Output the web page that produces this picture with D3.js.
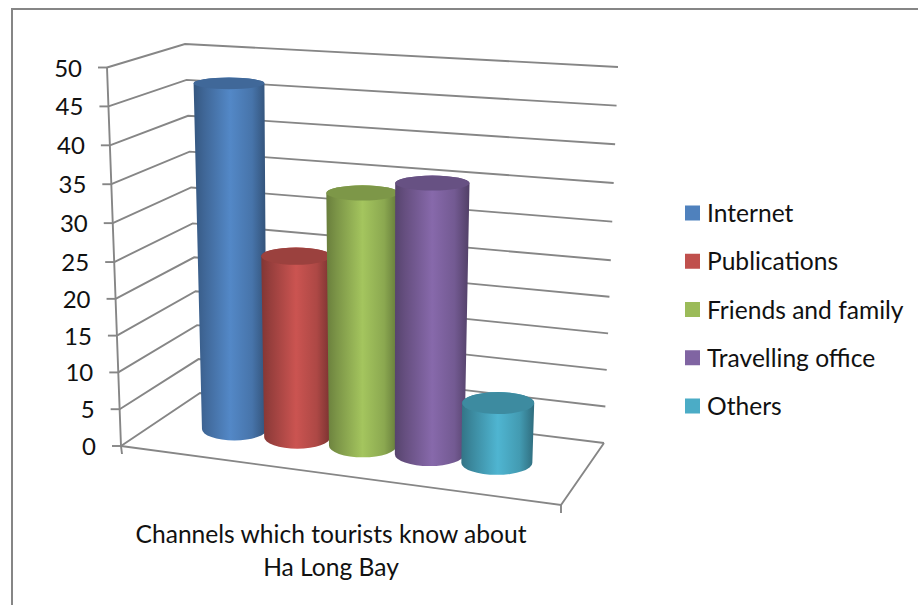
<!DOCTYPE html>
<html>
<head>
<meta charset="utf-8">
<script src="https://cdn.jsdelivr.net/npm/d3@7"></script>
<style>
  html, body { margin: 0; padding: 0; background: #fff; overflow: hidden; }
  svg text { font-family: Lato, "Open Sans", sans-serif; fill: #111; }
</style>
</head>
<body>
<svg class="svg" width="918" height="605"></svg>
<script>
// chart values
const channels = ["Internet", "Publications", "Friends and family", "Travelling office", "Others"];
const shares = [47, 25, 34, 36, 8];
const colors = ["#4f81bd", "#c0504d", "#9bbb59", "#8064a2", "#4bacc6"];
const yTicks = [0, 5, 10, 15, 20, 25, 30, 35, 40, 45, 50];
const titleLines = ["Channels which tourists know about", "Ha Long Bay"];

const svg = d3.select(".svg");
const gridColor = "#868686";

// corners of the 3D box as they land on the screen
const box = {
    frontLeft: { low: [121, 446], high: [107, 67.5] },
    backLeft: { low: [200, 393], high: [185, 44] },
    backRight: { low: [604, 443], high: [618, 67] },
    frontRight: { low: [561, 505], high: [576, 100] }
};

const mix = (a, b, k) => [a[0] + (b[0] - a[0]) * k, a[1] + (b[1] - a[1]) * k];

// the upper half of the axis is a bit more stretched by the perspective
const yScale = d3.scaleLinear().domain([0, 25, 50]).range([0, 0.486, 1]);
// position along the floor, left to right, slots widen slightly towards the viewer
const slotScale = d3.scalePoint().domain(channels).range([0, 1]);
const xScale = d3.scalePow().exponent(1.03).domain([0, 1]).range([0.175, 0.797]);
const ryScale = d3.scaleLinear().domain([80, 480]).range([5.8, 12.2]);

// u: left to right, d: front to back, v: axis value
function project(u, d, v) {
    const level = k => mix(
        mix(box.frontLeft[k], box.frontRight[k], u),
        mix(box.backLeft[k], box.backRight[k], u),
        d
    );
    return mix(level("low"), level("high"), yScale(v));
}

// frame, runs off the picture on the right and at the bottom
svg.append("rect")
    .attr("x", 12).attr("y", 9)
    .attr("width", 940).attr("height", 640)
    .attr("fill", "none")
    .attr("stroke", gridColor)
    .attr("stroke-width", 2);

const line = d3.line();
const grid = svg.append("g")
    .attr("fill", "none")
    .attr("stroke", gridColor)
    .attr("stroke-width", 1.9);

// walls
grid.selectAll(".wall")
    .data(yTicks)
    .enter()
    .append("path")
    .classed("wall", true)
    .attr("d", function (d) {
        return line([
            mix(box.frontLeft.low, box.frontLeft.high, yScale(d)),
            mix(box.backLeft.low, box.backLeft.high, yScale(d)),
            mix(box.backRight.low, box.backRight.high, yScale(d))
        ]);
    });

// y axis with its tail below the floor
grid.append("path").attr("d", line([box.frontLeft.high, box.frontLeft.low, [122, 454]]));

// floor edges
grid.append("path").attr("d", line([box.frontLeft.low, box.frontRight.low, box.backRight.low]));
grid.append("path").attr("d", line([box.frontRight.low, [561, 513]]));

// tick marks
grid.selectAll(".tick")
    .data(yTicks)
    .enter()
    .append("path")
    .classed("tick", true)
    .attr("d", function (d) {
        const p = mix(box.frontLeft.low, box.frontLeft.high, yScale(d));
        return line([[p[0] - 9, p[1]], p]);
    });

svg.selectAll(".ylabel")
    .data(yTicks)
    .enter()
    .append("text")
    .classed("ylabel", true)
    .attr("text-anchor", "end")
    .attr("font-size", 24)
    .attr("x", d => mix(box.frontLeft.low, box.frontLeft.high, yScale(d))[0] - 25)
    .attr("y", d => mix(box.frontLeft.low, box.frontLeft.high, yScale(d))[1] + 9)
    .text(d => d);

// shading round each cylinder
const defs = svg.append("defs");
colors.forEach((c, i) => {
    const g = defs.append("linearGradient").attr("id", "side" + i);
    [[0, 1.1], [0.14, 0.65], [0.5, -0.15], [0.8, 0.3], [1, 1.3]].forEach(s => {
        g.append("stop")
            .attr("offset", s[0])
            .attr("stop-color", s[1] < 0 ? d3.rgb(c).brighter(-s[1]) : d3.rgb(c).darker(s[1]));
    });
});

const cylinders = svg.selectAll(".cylinder")
    .data(channels)
    .enter()
    .append("g")
    .classed("cylinder", true);

const cylinderShape = function (d, i) {
    const u = xScale(slotScale(d));
    const base = project(u, 0.5, 0);
    const top = project(u, 0.5, shares[i]);
    // the left columns lean a little less than the box does
    top[0] += 3.5 * Math.max(0, 0.4 - u) / 0.225;
    const rb = 31.5 + 5 * u;
    return {
        base, top, rb,
        rt: rb * (1 + 0.1 * yScale(shares[i])),
        ryb: ryScale(base[1]),
        ryt: ryScale(top[1])
    };
};

cylinders.append("path")
    .attr("fill", (d, i) => "url(#side" + i + ")")
    .attr("d", function (d, i) {
        const s = cylinderShape(d, i);
        return "M" + (s.top[0] - s.rt) + "," + s.top[1]
            + "L" + (s.base[0] - s.rb) + "," + s.base[1]
            + "A" + s.rb + " " + s.ryb + " 0 0 0 " + (s.base[0] + s.rb) + "," + s.base[1]
            + "L" + (s.top[0] + s.rt) + "," + s.top[1]
            + "A" + s.rt + " " + s.ryt + " 0 0 0 " + (s.top[0] - s.rt) + "," + s.top[1] + "Z";
    });

cylinders.append("ellipse")
    .attr("cx", (d, i) => cylinderShape(d, i).top[0])
    .attr("cy", (d, i) => cylinderShape(d, i).top[1])
    .attr("rx", (d, i) => cylinderShape(d, i).rt)
    .attr("ry", (d, i) => cylinderShape(d, i).ryt)
    .attr("fill", (d, i) => d3.rgb(colors[i]).darker(0.6));

// legend
const legendY = d3.scalePoint().domain(channels).range([213, 406]);

svg.selectAll(".swatch")
    .data(channels)
    .enter()
    .append("rect")
    .classed("swatch", true)
    .attr("x", 685)
    .attr("y", d => legendY(d) - 7.5)
    .attr("width", 15)
    .attr("height", 15)
    .attr("fill", (d, i) => colors[i]);

svg.selectAll(".legend")
    .data(channels)
    .enter()
    .append("text")
    .classed("legend", true)
    .attr("x", 707)
    .attr("y", d => legendY(d) + 9)
    .attr("font-size", 24.6)
    .text(d => d);

// axis title under the floor
svg.selectAll(".title")
    .data(titleLines)
    .enter()
    .append("text")
    .classed("title", true)
    .attr("x", 331)
    .attr("y", (d, i) => 543 + i * 33)
    .attr("text-anchor", "middle")
    .attr("font-size", 24.6)
    .text(d => d);
</script>
</body>
</html>
